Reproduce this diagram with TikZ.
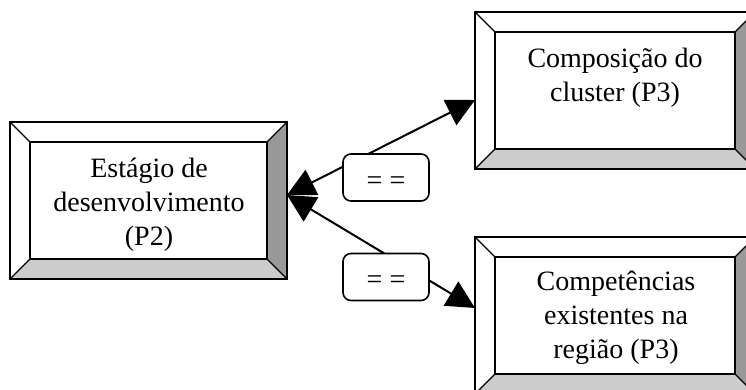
\documentclass[tikz,border=0pt]{standalone}
\usepackage{fontspec}
\setmainfont{Liberation Serif}
\usetikzlibrary{arrows.meta, calc}
\definecolor{BevelDark}{HTML}{999999}
\definecolor{BevelLight}{HTML}{CCCCCC}

\begin{document}
\begin{tikzpicture}[x=0.5pt, y=-0.5pt,
    outer/.style={rectangle, minimum width=138.5pt, minimum height=78.5pt, inner sep=0, outer sep=0},
    boxtext/.style={align=center, inner sep=0, font=\fontsize{14}{17}\selectfont},
    eqbox/.style={draw, line width=0.8pt, rounded corners=4pt, fill=white, minimum width=43pt,
        minimum height=23.5pt, inner sep=0, text height=12pt, text depth=0pt, font=\fontsize{14}{17}\selectfont},
    link/.style={line width=1pt, {Triangle[length=14pt, width=14pt]}-{Triangle[length=14pt, width=14pt]}}]
    \useasboundingbox (0,0) rectangle (746,390);

    % Beveled boxes (outer frame)
    \node[outer] (p2) at (148.5,200.5) {};
    \node[outer, minimum width=140pt] (p3a) at (615,90.5) {};
    \node[outer, minimum width=140pt] (p3b) at (615,315.5) {};

    % Bevel faces: right side dark, bottom side light
    \foreach \n in {p2, p3a, p3b} {
        \coordinate (\n-nw) at ($(\n.north west)+(20,20)$);
        \coordinate (\n-ne) at ($(\n.north east)+(-20,20)$);
        \coordinate (\n-se) at ($(\n.south east)+(-20,-20)$);
        \coordinate (\n-sw) at ($(\n.south west)+(20,-20)$);
        \fill[BevelDark] (\n.north east) -- (\n-ne) -- (\n-se) -- (\n.south east) -- cycle;
        \fill[BevelLight] (\n.south west) -- (\n-sw) -- (\n-se) -- (\n.south east) -- cycle;
        \draw[line width=0.6pt] (\n.north west) -- (\n-nw) (\n.north east) -- (\n-ne)
            (\n.south east) -- (\n-se) (\n.south west) -- (\n-sw);
        \draw[line width=1pt] (\n-nw) rectangle (\n-se);
        \draw[line width=1pt] (\n.north west) rectangle (\n.south east);
    }

    % Texts
    \node[boxtext] (t2) at (149,205) {Estágio de\\desenvolvimento\\(P2)};
    \node[boxtext] (t3a) at (615,78) {Composição do\\cluster (P3)};
    \node[boxtext] (t3b) at (616,318) {Competências\\existentes na\\região (P3)};

    % Links
    \coordinate (hub) at ([yshift=2.75pt]p2.east);
    \draw[link] (hub) -- ([yshift=-4.75pt]p3a.west);
    \draw[link] (hub) -- ([yshift=3.75pt]p3b.west);

    % Relation labels
    \node[eqbox] (eq1) at (386,177.5) {= =};
    \node[eqbox] (eq2) at (386,277) {= =};
\end{tikzpicture}
\end{document}
